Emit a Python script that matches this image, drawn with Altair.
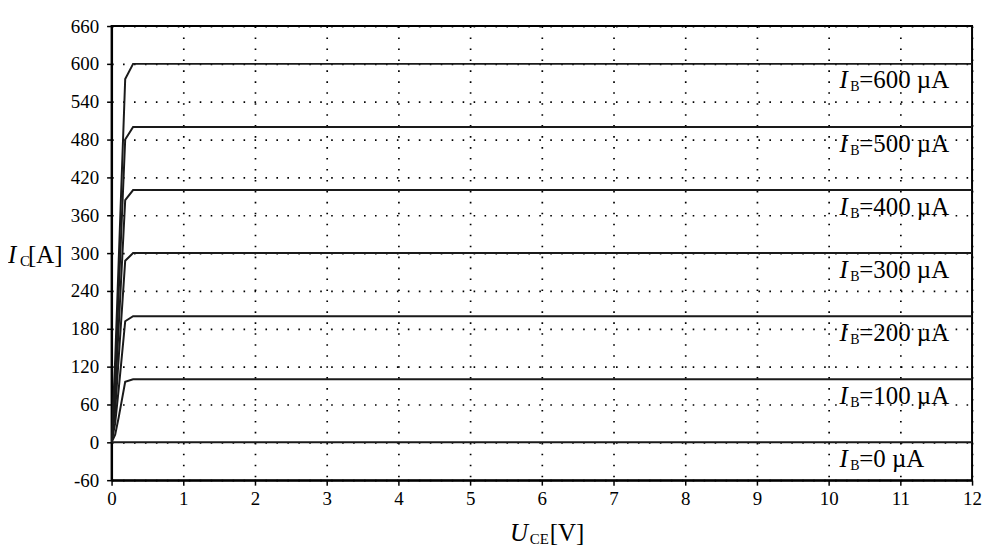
import altair as alt
import pandas as pd

# U_CE sample points [V]
uce = [0, 0.05, 0.1, 0.19, 0.3, 12]
# base currents [µA]
ib_values = [0, 100, 200, 300, 400, 500, 600]
# collector current curves [A]
ic_0 = [0, 0, 0, 0, 0, 0]
ic_100 = [0, 12, 40, 96, 100, 100]
ic_200 = [0, 30, 85, 192, 200, 200]
ic_300 = [0, 50, 135, 288, 300, 300]
ic_400 = [0, 75, 185, 384, 400, 400]
ic_500 = [0, 100, 240, 480, 500, 500]
ic_600 = [0, 130, 290, 576, 600, 600]

x_ticks = list(range(0, 13))
y_ticks = [-60, 0, 60, 120, 180, 240, 300, 360, 420, 480, 540, 600, 660]

curves = [ic_0, ic_100, ic_200, ic_300, ic_400, ic_500, ic_600]
rows = []
for ib, ic in zip(ib_values, curves):
    for u, i in zip(uce, ic):
        rows.append({"ib": ib, "u": u, "ic": i})
df = pd.DataFrame(rows)

lab = pd.DataFrame({
    "ib": ib_values,
    "u": [10.15] * len(ib_values),
    "ic": [v - 39 for v in ib_values],
    "rest": [f"={v} µA" for v in ib_values],
})

FONT = "Liberation Serif"

xs = alt.Scale(domain=[0, 12], nice=False, zero=False)
ys = alt.Scale(domain=[-60, 660], nice=False, zero=False)

common = dict(title=None, labelFontSize=19, labelFont=FONT, labelColor="black",
              tickColor="black", tickSize=5, domainColor="black", domainWidth=2,
              tickWidth=1.5, grid=True, gridColor="black", gridDash=[1.6, 9.4],
              gridWidth=1.7, gridOpacity=1, labelFlush=False, labelOverlap=False)
xaxis = alt.Axis(values=x_ticks, labelPadding=4, format="d", **common)
yaxis = alt.Axis(values=y_ticks, labelPadding=8,
                 labelExpr="datum.value < 0 ? '-' + abs(datum.value) : '' + datum.value",
                 **common)

X = alt.X("u:Q", scale=xs, axis=xaxis)
Y = alt.Y("ic:Q", scale=ys, axis=yaxis)

lines = alt.Chart(df).mark_line(color="#1a1a1a", strokeWidth=2, clip=True).encode(
    x=X, y=Y, detail="ib:N", order="u:Q",
)

base_lab = alt.Chart(lab).encode(x=X, y=Y)
t_i = base_lab.mark_text(text="I", font=FONT, fontSize=25, fontStyle="italic",
                         align="left", baseline="alphabetic", color="black")
t_b = base_lab.mark_text(text="B", font=FONT, fontSize=14, align="left",
                         baseline="alphabetic", dx=11, dy=3, color="black")
t_r = base_lab.mark_text(font=FONT, fontSize=25, align="left",
                         baseline="alphabetic", dx=20, color="black").encode(text="rest:N")

one = pd.DataFrame({"k": [0]})


def piece(txt, x, y, size, italic=False, dy=0):
    kw = dict(text=txt, font=FONT, fontSize=size, align="left",
              baseline="alphabetic", color="black", dy=dy)
    if italic:
        kw["fontStyle"] = "italic"
    return alt.Chart(one).mark_text(**kw).encode(x=alt.value(x), y=alt.value(y))


ytitle = [piece("I", -104, 238, 25, italic=True),
          piece("C", -92, 238, 15, dy=3),
          piece("[A]", -84, 238, 25)]
xtitle = [piece("U", 400, 517, 25, italic=True),
          piece("CE", 420, 517, 15, dy=3),
          piece("[V]", 440, 517, 25)]

chart = alt.layer(lines, t_i, t_b, t_r, *ytitle, *xtitle).properties(
    width=864, height=456,
    padding={"left": 104, "top": 17, "right": 12, "bottom": 66},
    autosize=alt.AutoSizeParams(type="none"),
    background="white",
).configure_view(stroke="black", strokeWidth=2)

chart.save("out.html", embed_options={"renderer": "svg", "actions": False})
